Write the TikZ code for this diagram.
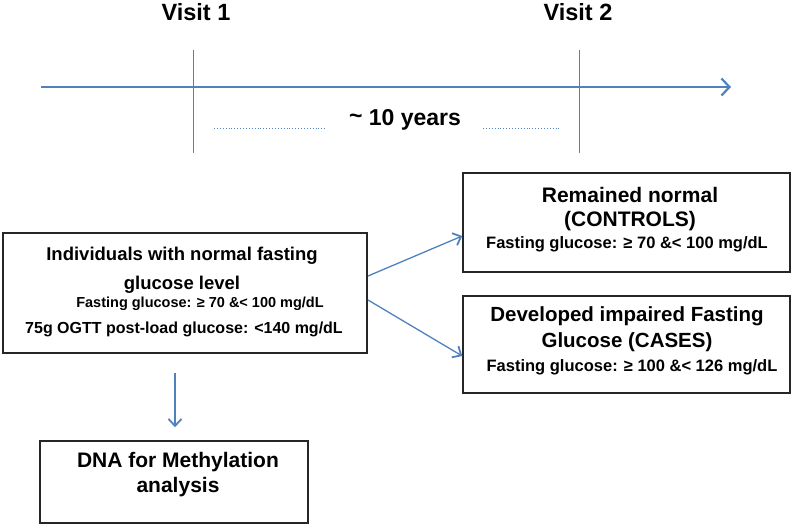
\documentclass[tikz,border=0pt]{standalone}
\usepackage{fontspec}
\setmainfont{Liberation Sans}
\usetikzlibrary{arrows.meta}
\definecolor{lineblue}{HTML}{4F81BD}
\newcommand{\fsz}[1]{\bfseries\fontsize{#1}{#1}\selectfont}
\begin{document}
\begin{tikzpicture}[x=1pt,y=-1pt,
  conn/.style={draw=lineblue,line width=1.3pt,-{Straight Barb[length=7pt,width=13pt,line width=1.8pt]}},
  boxn/.style={draw=black!85,line width=1.5pt,inner sep=0pt},
  txt/.style={inner sep=0pt,anchor=center}]
\useasboundingbox (0,0) rectangle (800,526);
% timeline
\coordinate (tl0) at (41,87);
\coordinate (tl1) at (731,87);
\draw[draw=lineblue,line width=2.2pt,-{Straight Barb[length=8pt,width=17pt,line width=2.2pt]}] (tl0) -- (tl1);
\coordinate (v1t) at (193,50); \coordinate (v1b) at (193,153);
\coordinate (v2t) at (579,50); \coordinate (v2b) at (579,153);
\draw[lineblue,line width=0.8pt] (v1t) -- (v1b);
\draw[lineblue,line width=0.8pt] (v2t) -- (v2b);
\node[txt,font=\fsz{23.5}] (visit1) at (196,12) {Visit 1};
\node[txt,font=\fsz{23.5}] (visit2) at (578,12) {Visit 2};
\node[txt,font=\fsz{23}] (yrs) at (405,120) {\raisebox{0.15ex}{\textasciitilde} 10 years};
\coordinate (d1a) at (214,128); \coordinate (d1b) at (327,128);
\coordinate (d2a) at (483,128); \coordinate (d2b) at (559,128);
\draw[lineblue,line width=0.9pt,dotted] (d1a) -- (d1b);
\draw[lineblue,line width=0.9pt,dotted] (d2a) -- (d2b);
% left box
\node[boxn,minimum width=364pt,minimum height=120pt] (left) at (185,293) {};
\node[txt,font=\fsz{18.5}] (l1) at (182,256) {Individuals with normal fasting};
\node[txt,font=\fsz{18.5}] (l2) at (182,285) {glucose level};
\node[txt,font=\fsz{14.5}] (l3) at (200,304) {Fasting glucose: ≥ 70 \&< 100 mg/dL};
\node[txt,font=\fsz{16}] (l4) at (184,329) {75g OGTT post-load glucose: <140 mg/dL};
% controls
\node[boxn,minimum width=327pt,minimum height=99pt] (ctrl) at (626.5,222.5) {};
\node[txt,font=\fsz{21}] (c1) at (630,195) {Remained normal};
\node[txt,font=\fsz{21}] (c2) at (630,221) {(CONTROLS)};
\node[txt,font=\fsz{16.5}] (c3) at (627,244) {Fasting glucose: ≥ 70 \&< 100 mg/dL};
% cases
\node[boxn,minimum width=327pt,minimum height=97pt] (cases) at (626.5,344.5) {};
\node[txt,font=\fsz{20.5}] (k1) at (627,316) {Developed impaired Fasting};
\node[txt,font=\fsz{20.5}] (k2) at (627,342) {Glucose (CASES)};
\node[txt,font=\fsz{16.5}] (k3) at (632,367) {Fasting glucose: ≥ 100 \&< 126 mg/dL};
% dna
\node[boxn,minimum width=268pt,minimum height=82pt] (dna) at (174,482) {};
\node[txt,font=\fsz{21}] (n1) at (178,462) {DNA for Methylation};
\node[txt,font=\fsz{21}] (n2) at (178,487) {analysis};
% connectors
\draw[conn] (368,276) -- (ctrl.west |- 0,236);
\draw[conn] (368,300) -- (cases.west |- 0,356);
\coordinate (dtop) at (175,373);
\draw[conn] (dtop) -- ([yshift=13pt]dna.north -| dtop);
\end{tikzpicture}
\end{document}
